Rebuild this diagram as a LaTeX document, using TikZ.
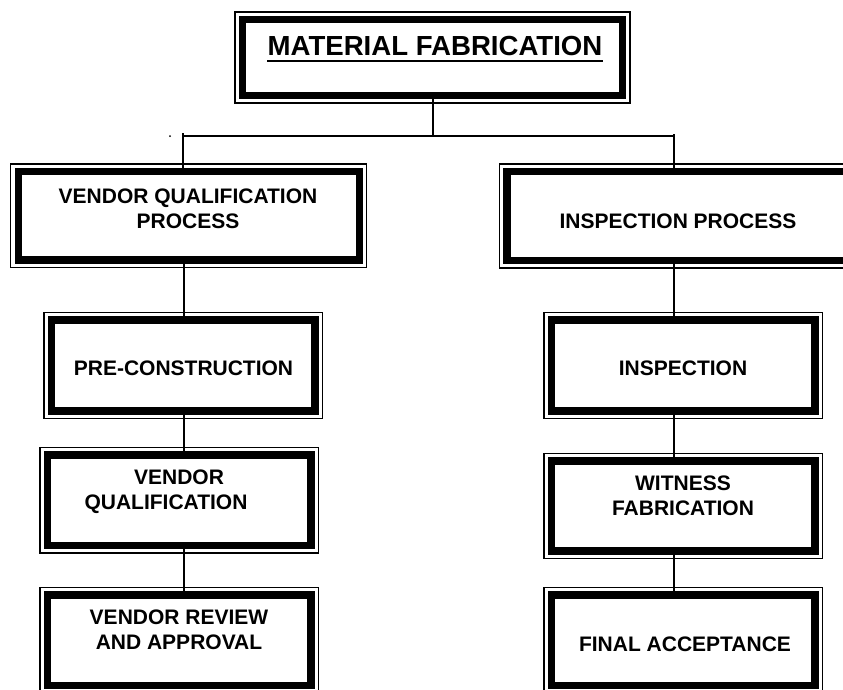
\documentclass[tikz,border=0pt]{standalone}
\usepackage{fontspec}
\setmainfont{Liberation Sans}
\begin{document}
\begin{tikzpicture}[x=1pt,y=-1pt,
  boxframe/.style={draw=black,line width=1.2pt,rectangle,inner sep=0pt,outer sep=0pt},
  thickframe/.style={draw=black,line width=7.5pt},
  lbl/.style={anchor=base,inner sep=0pt,font=\fontsize{21}{25}\selectfont\bfseries},
  conn/.style={draw=black,line width=1.5pt}]
\useasboundingbox (0,0) rectangle (843,689);
\clip (0,0) rectangle (843,689);
% boxes (outer thin frame)
\node[boxframe,minimum width=395pt,minimum height=91pt] (top) at (432.5,57.5) {};
\node[boxframe,minimum width=356pt,minimum height=103.5pt] (vqp) at (188.75,215.75) {};
\node[boxframe,minimum width=356pt,minimum height=104pt] (ip) at (677.5,216) {};
\node[boxframe,minimum width=278.5pt,minimum height=106pt] (pc) at (183.25,365.5) {};
\node[boxframe,minimum width=278.5pt,minimum height=106pt] (insp) at (683.25,365.5) {};
\node[boxframe,minimum width=278.5pt,minimum height=105.5pt] (vq) at (179.25,500.25) {};
\node[boxframe,minimum width=278.5pt,minimum height=105pt] (wf) at (683.25,506) {};
\node[boxframe,minimum width=278.5pt,minimum height=105.5pt] (vra) at (179.25,640.25) {};
\node[boxframe,minimum width=278.5pt,minimum height=105.5pt] (fa) at (683.25,640.25) {};
% inner thick frames
\foreach \n in {top,vqp,ip,pc,insp,vq,wf,vra,fa}
  \draw[thickframe] ([xshift=7.5pt,yshift=-7.5pt]\n.north west) rectangle ([xshift=-7.5pt,yshift=7.5pt]\n.south east);
% texts
\node[anchor=base,inner sep=0pt,font=\fontsize{27.6}{32}\selectfont\bfseries] (title) at (435,55) {MATERIAL FABRICATION};
\draw[line width=2pt] ([yshift=-6pt]title.base west) -- ([yshift=-6pt]title.base east);
\node[lbl] (t1a) at (188,203) {VENDOR QUALIFICATION};
\node[lbl] (t1b) at (188,228) {PROCESS};
\node[lbl] (t2) at (678,228) {INSPECTION PROCESS};
\node[lbl] (t3) at (183.5,375.7) {PRE-CONSTRUCTION};
\node[lbl] (t4) at (683,375.7) {INSPECTION};
\node[lbl] (t5a) at (179,484) {VENDOR};
\node[lbl] (t5b) at (166,509) {QUALIFICATION};
\node[lbl] (t6a) at (683,490) {WITNESS};
\node[lbl] (t6b) at (683,515) {FABRICATION};
\node[lbl] (t7a) at (179,624) {VENDOR REVIEW};
\node[lbl] (t7b) at (179,649) {AND APPROVAL};
\node[lbl] (t8) at (685,651) {FINAL ACCEPTANCE};
% connectors
\coordinate (bl) at (183,136);
\coordinate (br) at (674,136);
\coordinate (bm) at (433,136);
\coordinate (lcol) at (184,0);
\coordinate (rcol) at (674,0);
\draw[conn] ([yshift=11pt]top.south -| bm) -- (bm);
\draw[conn] (bl) -- (br);
\draw[conn] ([yshift=3pt]bl) -- ([yshift=-8pt]vqp.north -| bl);
\draw[conn] ([yshift=2pt]br) -- ([yshift=-8pt]ip.north -| br);
\draw[conn] ([yshift=11pt]vqp.south -| lcol) -- ([yshift=-8pt]pc.north -| lcol);
\draw[conn] ([yshift=8pt]pc.south -| lcol) -- ([yshift=-8pt]vq.north -| lcol);
\draw[conn] ([yshift=8pt]vq.south -| lcol) -- ([yshift=-8pt]vra.north -| lcol);
\draw[conn] ([yshift=11pt]ip.south -| rcol) -- ([yshift=-8pt]insp.north -| rcol);
\draw[conn] ([yshift=8pt]insp.south -| rcol) -- ([yshift=-8pt]wf.north -| rcol);
\draw[conn] ([yshift=8pt]wf.south -| rcol) -- ([yshift=-8pt]fa.north -| rcol);
\fill (170,136) circle (1pt);
\end{tikzpicture}
\end{document}
